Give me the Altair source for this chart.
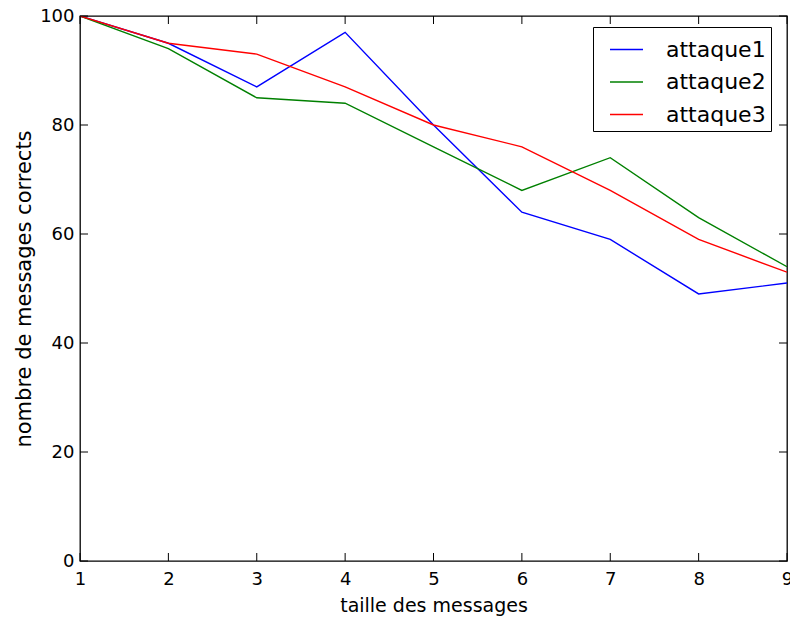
import altair as alt
import pandas as pd

tailles = [1, 2, 3, 4, 5, 6, 7, 8, 9]
attaque1 = [100, 95, 87, 97, 80, 64, 59, 49, 51]
attaque2 = [100, 94, 85, 84, 76, 68, 74, 63, 54]
attaque3 = [100, 95, 93, 87, 80, 76, 68, 59, 53]
series_names = ["attaque1", "attaque2", "attaque3"]
series_colors = ["#0000ff", "#008000", "#ff0000"]
x_ticks = [1, 2, 3, 4, 5, 6, 7, 8, 9]
y_ticks = [0, 20, 40, 60, 80, 100]

rows = []
for name, vals in zip(series_names, [attaque1, attaque2, attaque3]):
    for t, v in zip(tailles, vals):
        rows.append({"taille": t, "valeur": v, "serie": name})
df = pd.DataFrame(rows)

W, H = 707, 545
FONT = "DejaVu Sans"

xscale = alt.Scale(domain=[1, 9], nice=False, zero=False)
yscale = alt.Scale(domain=[0, 100], nice=False)

lines = alt.Chart(df).mark_line(strokeWidth=1.4, clip=True).encode(
    x=alt.X("taille:Q", scale=xscale,
            axis=alt.Axis(title="taille des messages", values=x_ticks, ticks=False,
                          labelPadding=9, labelFontSize=18, titleFontSize=19,
                          titleFontWeight="normal", titlePadding=8, grid=False,
                          domain=False, labelFlush=False, labelColor="#000000",
                          titleColor="#000000", format="d", labelFont=FONT, titleFont=FONT)),
    y=alt.Y("valeur:Q", scale=yscale,
            axis=alt.Axis(title="nombre de messages corrects", values=y_ticks, ticks=False,
                          labelPadding=6, labelFontSize=18, titleFontSize=21,
                          titleFontWeight="normal", titlePadding=5, grid=False,
                          domain=False, labelFlush=False, labelColor="#000000",
                          titleColor="#000000", labelFont=FONT, titleFont=FONT)),
    color=alt.Color("serie:N",
                    scale=alt.Scale(domain=series_names, range=series_colors),
                    legend=alt.Legend(title=None, orient="none", legendX=513, legendY=11,
                                      symbolType="stroke", symbolSize=1089,
                                      symbolStrokeWidth=1.4, labelFontSize=22,
                                      labelFont=FONT, labelColor="#000000",
                                      labelOffset=22, rowPadding=3.5, padding=5,
                                      symbolOffset=11,
                                      strokeColor="#000000", fillColor="#ffffff",
                                      cornerRadius=0)),
)

xt = pd.DataFrame({"t": x_ticks})
yt = pd.DataFrame({"t": y_ticks})

bottom_ticks = alt.Chart(xt).mark_rule(color="black", strokeWidth=1).encode(
    x=alt.X("t:Q", scale=xscale), y=alt.value(H), y2=alt.value(H - 8))
top_ticks = alt.Chart(xt).mark_rule(color="black", strokeWidth=1).encode(
    x=alt.X("t:Q", scale=xscale), y=alt.value(0), y2=alt.value(8))
left_ticks = alt.Chart(yt).mark_rule(color="black", strokeWidth=1).encode(
    y=alt.Y("t:Q", scale=yscale), x=alt.value(0), x2=alt.value(8))
right_ticks = alt.Chart(yt).mark_rule(color="black", strokeWidth=1).encode(
    y=alt.Y("t:Q", scale=yscale), x=alt.value(W), x2=alt.value(W - 8))

chart = alt.layer(lines, bottom_ticks, top_ticks, left_ticks, right_ticks).properties(
    width=W, height=H,
    background="#ffffff",
    autosize=alt.AutoSizeParams(type="none"),
    padding={"left": 80, "top": 16, "right": 3, "bottom": 58},
).configure_view(stroke="#000000", strokeWidth=1.3)

chart.save("out.html", embed_options={"renderer": "svg", "actions": False})
